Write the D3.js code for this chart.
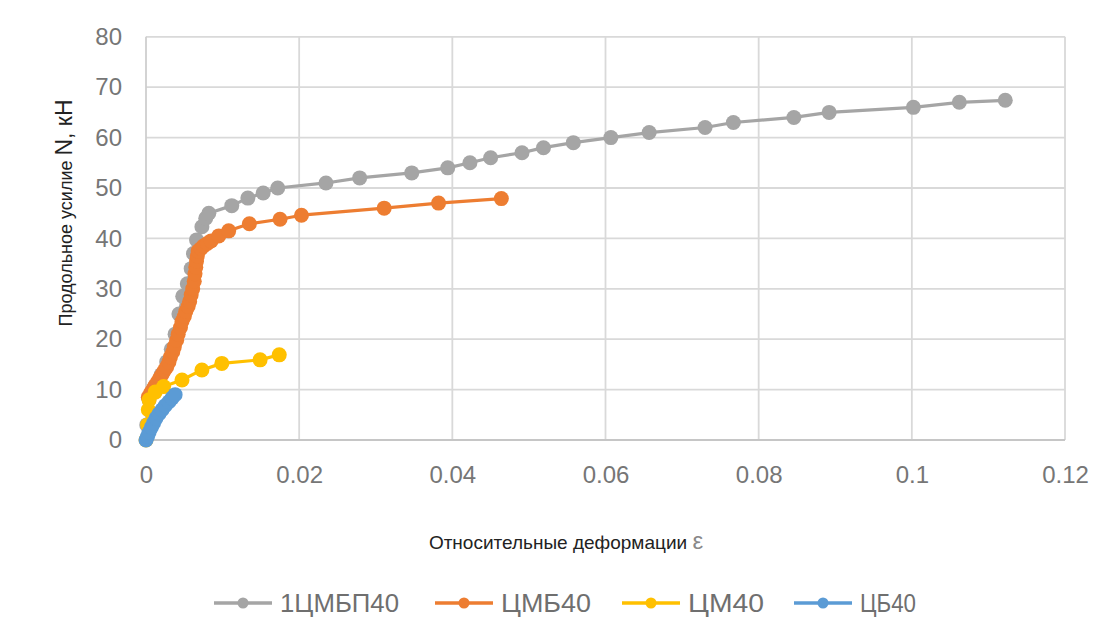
<!DOCTYPE html>
<html><head><meta charset="utf-8">
<script src="https://cdn.jsdelivr.net/npm/d3@7"></script>
<style>
html,body{margin:0;padding:0;background:#fff;}
svg{display:block;font-family:"Liberation Sans",Arial,sans-serif;}
</style></head>
<body>
<svg id="chart" width="1109" height="621"></svg>
<script>
// ---- data ----
const seriesNames = ["1ЦМБП40", "ЦМБ40", "ЦМ40", "ЦБ40"];
const seriesColors = ["#A5A5A5", "#ED7D31", "#FFC000", "#5B9BD5"];

const eps1CMBP40 = [0.0001,0.0004,0.0011,0.0020,0.0027,0.0033,0.0038,0.0043,0.0048,0.0054,0.0059,0.0062,0.0066,0.0073,0.0078,0.0082,0.0112,0.0133,0.0153,0.0172,0.0235,0.0279,0.0347,0.0394,0.0423,0.0450,0.0491,0.0519,0.0558,0.0607,0.0657,0.0730,0.0767,0.0846,0.0892,0.1002,0.1062,0.1122];
const N1CMBP40   = [3,8,10.5,13,15.5,18,21,25,28.5,31,34,37,39.7,42.3,44,45,46.5,48,49,50,51,52,53,54,55,56,57,58,59,60,61,62,63,64,65,66,67,67.4];

const epsCMB40 = [0.0003,0.0006,0.0009,0.0012,0.0015,0.0018,0.0021,0.0024,0.0027,0.0030,0.0032,0.0035,0.0037,0.0040,0.0042,0.0045,0.0047,0.0050,0.0052,0.0055,0.0057,0.0059,0.0061,0.0063,0.0064,0.0065,0.0066,0.0067,0.0068,0.0072,0.0075,0.0080,0.0085,0.0095,0.0108,0.0135,0.0175,0.0203,0.0311,0.0382,0.0464];
const NCMB40   = [8.5,9.3,10,10.8,11.5,12.3,13,13.8,14.5,15.5,16.5,17.5,18.5,19.8,21,22.3,23.5,24.5,25.5,26.5,27.5,28.8,30,31.5,33,34.3,35.5,36.5,37.5,38,38.5,39,39.5,40.5,41.5,42.9,43.8,44.6,46,47,47.9];

const epsCM40 = [0,0.0002,0.0003,0.0004,0.0012,0.0023,0.0047,0.0073,0.0099,0.0149,0.0174];
const NCM40   = [0,3,6,8,9.5,10.6,11.9,13.9,15.2,15.9,16.9];

const epsCB40 = [0,0.0002,0.0004,0.0007,0.001,0.0013,0.0017,0.0021,0.0025,0.003,0.0034,0.0038];
const NCB40   = [0,0.7,1.5,2.5,3.4,4.3,5.2,6,6.8,7.6,8.3,9];

const xTicks = [0,0.02,0.04,0.06,0.08,0.1,0.12];
const yTicks = [0,10,20,30,40,50,60,70,80];

const xTitle = "Относительные деформации ";
const xTitleSym = "ε";
const yTitleA = "Продольное усилие ";
const yTitleB = "N, кН";

// ---- build ----
const series = [
  {name: seriesNames[0], color: seriesColors[0], xs: eps1CMBP40, ys: N1CMBP40},
  {name: seriesNames[1], color: seriesColors[1], xs: epsCMB40, ys: NCMB40},
  {name: seriesNames[2], color: seriesColors[2], xs: epsCM40, ys: NCM40},
  {name: seriesNames[3], color: seriesColors[3], xs: epsCB40, ys: NCB40}
].map(s => ({...s, pts: s.xs.map((x,i)=>({x, y: s.ys[i]}))}));

const svg = d3.select("#chart");
svg.append("rect").attr("width",1109).attr("height",621).attr("fill","#fff");

const x = d3.scaleLinear().domain([0,0.12]).range([146,1065]);
const y = d3.scaleLinear().domain([0,80]).range([440,36.8]);

// gridlines
const g = svg.append("g");
g.selectAll("line.h").data(yTicks.filter(d=>d>0)).join("line")
  .attr("x1",x(0)).attr("x2",x(0.12)).attr("y1",d=>y(d)).attr("y2",d=>y(d))
  .attr("stroke","#d9d9d9").attr("stroke-width",1.8);
g.selectAll("line.v").data(xTicks.filter(d=>d>0)).join("line")
  .attr("y1",y(0)).attr("y2",y(80)).attr("x1",d=>x(d)).attr("x2",d=>x(d))
  .attr("stroke","#d9d9d9").attr("stroke-width",1.8);
// axes lines
g.append("line").attr("x1",x(0)).attr("x2",x(0)).attr("y1",y(0)).attr("y2",y(80))
  .attr("stroke","#cfcfcf").attr("stroke-width",1.8);
g.append("line").attr("x1",x(0)).attr("x2",x(0.12)).attr("y1",y(0)).attr("y2",y(0))
  .attr("stroke","#c6c6c6").attr("stroke-width",2);

// axes with d3
const xAxis = d3.axisBottom(x).tickValues(xTicks).tickSize(0).tickPadding(26)
  .tickFormat(d => String(+d.toFixed(2)));
svg.append("g").attr("transform",`translate(0,${y(0)})`).call(xAxis)
  .call(a=>a.select(".domain").remove())
  .selectAll("text").attr("font-size",24).attr("fill","#767676")
  .attr("font-family","'Liberation Sans',Arial,sans-serif");
const yAxis = d3.axisLeft(y).tickValues(yTicks).tickSize(0).tickPadding(24);
svg.append("g").attr("transform",`translate(${x(0)},0)`).call(yAxis)
  .call(a=>a.select(".domain").remove())
  .selectAll("text").attr("font-size",24).attr("fill","#767676")
  .attr("font-family","'Liberation Sans',Arial,sans-serif");

// series
const line = d3.line().x(d=>x(d.x)).y(d=>y(d.y));
series.forEach(s => {
  const sg = svg.append("g");
  sg.append("path").datum(s.pts).attr("d",line).attr("fill","none")
    .attr("stroke",s.color).attr("stroke-width",3.2).attr("stroke-linejoin","round");
  sg.selectAll("circle").data(s.pts).join("circle")
    .attr("cx",d=>x(d.x)).attr("cy",d=>y(d.y)).attr("r",7.5).attr("fill",s.color);
});

// axis titles
const xt = svg.append("text").attr("x",566).attr("y",549).attr("text-anchor","middle")
  .attr("font-size",19).attr("fill","#222");
xt.append("tspan").text(xTitle);
xt.append("tspan").text(xTitleSym).attr("font-size",24).attr("fill","#888");

const yt = svg.append("text").attr("transform","translate(72,213) rotate(-90)")
  .attr("text-anchor","middle").attr("font-size",18).attr("fill","#222");
yt.append("tspan").text(yTitleA);
yt.append("tspan").text(yTitleB).attr("font-size",23);

// legend
const legendX = [214, 435, 622, 794];
const legendW = [119, 90, 76, 56];
const lg = svg.append("g");
series.forEach((s,i) => {
  const lx = legendX[i], ly = 603;
  lg.append("line").attr("x1",lx).attr("x2",lx+58).attr("y1",ly).attr("y2",ly)
    .attr("stroke",s.color).attr("stroke-width",3.5);
  lg.append("circle").attr("cx",lx+29).attr("cy",ly).attr("r",5.5).attr("fill",s.color);
  lg.append("text").attr("x",lx+66).attr("y",ly).attr("dy","0.36em")
    .attr("font-size",26).attr("fill","#6f6f6f")
    .attr("textLength",legendW[i]).attr("lengthAdjust","spacingAndGlyphs").text(s.name);
});
</script>
</body></html>
